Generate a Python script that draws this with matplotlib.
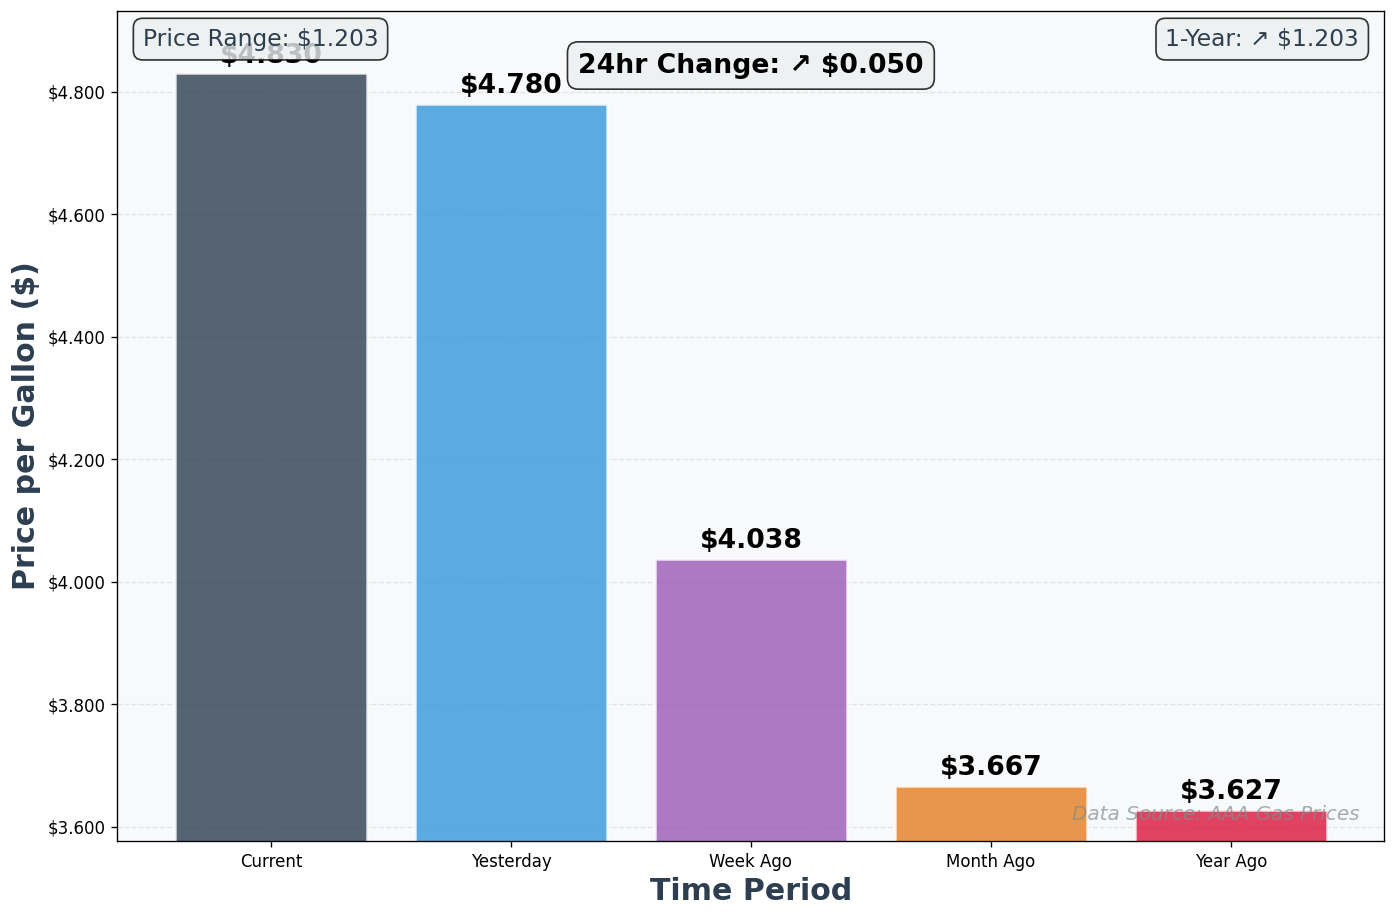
import matplotlib
matplotlib.use("Agg")
import matplotlib.pyplot as plt

periods = ["Current", "Yesterday", "Week Ago", "Month Ago", "Year Ago"]
prices = [4.830, 4.780, 4.038, 3.667, 3.627]
colors = ["#2c3e50", "#3498db", "#9b59b6", "#e67e22", "#dc143c"]

fig, ax = plt.subplots(figsize=(1397 / 120, 918 / 120), dpi=120)
ax.set_facecolor("#f8f9fa")
bars = ax.bar(periods, prices, color=colors, alpha=0.8, edgecolor="white", linewidth=1.5, width=0.8)
ax.set_ylim(3.577, 4.932)

for b, p in zip(bars, prices):
    ax.text(b.get_x() + b.get_width() / 2, p + 0.008, f"${p:.3f}", ha="center", va="bottom",
            fontsize=16, fontweight="bold")

ax.yaxis.set_major_formatter(matplotlib.ticker.FuncFormatter(lambda v, _: f"${v:.3f}"))
ax.grid(axis="y", linestyle="--", alpha=0.3)
ax.set_axisbelow(True)
ax.tick_params(labelsize=10)

ax.set_xlabel("Time Period", fontsize=18, fontweight="bold", color="#2c3e50")
ax.set_ylabel("Price per Gallon ($)", fontsize=18, fontweight="bold", color="#2c3e50")

box = dict(boxstyle="round,pad=0.4", facecolor="#ecf0f1", alpha=0.8, edgecolor="black")
change = prices[0] - prices[1]
yr = prices[0] - prices[4]
rng = max(prices) - min(prices)
ax.text(0.5, 0.95, f"24hr Change: ↗ ${change:.3f}", transform=ax.transAxes, ha="center", va="top",
        fontsize=16, fontweight="bold", bbox=box, zorder=10)
ax.text(0.02, 0.98, f"Price Range: ${rng:.3f}", transform=ax.transAxes, ha="left", va="top",
        fontsize=14, color="#2c3e50", bbox=box, zorder=10)
ax.text(0.98, 0.98, f"1-Year: ↗ ${yr:.3f}", transform=ax.transAxes, ha="right", va="top",
        fontsize=14, color="#2c3e50", bbox=box, zorder=10)
ax.text(0.98, 0.02, "Data Source: AAA Gas Prices", transform=ax.transAxes, ha="right", va="bottom",
        fontsize=12, style="italic", color="#7f8c8d", alpha=0.7, zorder=10)

fig.subplots_adjust(left=0.084, right=0.991, top=0.988, bottom=0.084)
fig.savefig("out.png", dpi=120)
